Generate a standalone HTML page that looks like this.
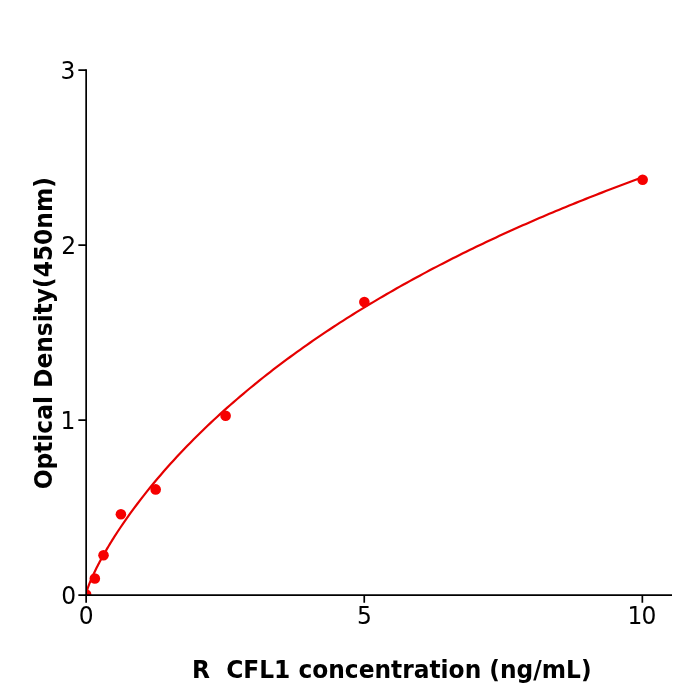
<!DOCTYPE html>
<html lang="en"><head><meta charset="utf-8"><title>R CFL1 standard curve</title>
<style>
html,body{margin:0;padding:0;background:#fff;}
body{width:700px;height:700px;overflow:hidden;}
svg{display:block;}
text{font-family:"DejaVu Sans","Liberation Sans",sans-serif;fill:#000;}
.tick{font-size:23.4px;}
.lab{font-size:23.33px;font-weight:bold;}
</style></head>
<body>
<svg xmlns="http://www.w3.org/2000/svg" width="700" height="700" viewBox="0 0 700 700">
<rect width="700" height="700" fill="#ffffff"/>
<defs><clipPath id="ax"><rect x="86.15" y="70.11" width="585.85" height="525.09"/></clipPath></defs>
<g clip-path="url(#ax)">
<path d="M86.15,593.71 L86.86,590.83 L87.58,588.61 L88.29,586.60 L89.00,584.71 L89.72,582.91 L90.43,581.17 L91.14,579.49 L91.85,577.86 L92.57,576.27 L93.28,574.71 L93.99,573.19 L94.71,571.69 L95.42,570.22 L96.13,568.77 L96.85,567.35 L97.56,565.95 L98.27,564.56 L98.99,563.19 L99.70,561.84 L100.41,560.51 L101.12,559.19 L101.84,557.89 L102.55,556.59 L103.26,555.32 L103.98,554.05 L104.69,552.80 L105.40,551.56 L106.12,550.33 L106.83,549.11 L107.54,547.90 L108.26,546.70 L108.97,545.51 L109.68,544.33 L110.39,543.16 L111.11,541.99 L111.82,540.84 L112.53,539.69 L113.25,538.56 L113.96,537.43 L117.28,532.26 L120.61,527.24 L123.93,522.36 L127.25,517.60 L130.58,512.95 L133.90,508.41 L137.22,503.97 L140.55,499.62 L143.87,495.35 L147.19,491.17 L150.52,487.06 L153.84,483.03 L157.16,479.07 L160.48,475.17 L163.81,471.34 L167.13,467.57 L170.45,463.85 L173.78,460.19 L177.10,456.59 L180.42,453.04 L183.75,449.54 L187.07,446.08 L190.39,442.68 L193.72,439.32 L197.04,436.00 L200.36,432.73 L203.69,429.49 L207.01,426.30 L210.33,423.15 L213.66,420.03 L216.98,416.95 L220.30,413.91 L223.63,410.90 L226.95,407.93 L230.27,404.99 L233.60,402.08 L236.92,399.21 L240.24,396.36 L243.57,393.55 L246.89,390.76 L250.21,388.01 L253.53,385.28 L256.86,382.58 L260.18,379.91 L263.50,377.26 L266.83,374.64 L270.15,372.05 L273.47,369.48 L276.80,366.94 L280.12,364.41 L283.44,361.92 L286.77,359.44 L290.09,356.99 L293.41,354.56 L296.74,352.16 L300.06,349.77 L303.38,347.41 L306.71,345.06 L310.03,342.74 L313.35,340.44 L316.68,338.15 L320.00,335.89 L323.32,333.65 L326.65,331.42 L329.97,329.21 L333.29,327.02 L336.61,324.85 L339.94,322.70 L343.26,320.56 L346.58,318.44 L349.91,316.34 L353.23,314.25 L356.55,312.18 L359.88,310.13 L363.20,308.09 L366.52,306.07 L369.85,304.06 L373.17,302.07 L376.49,300.09 L379.82,298.13 L383.14,296.18 L386.46,294.25 L389.79,292.33 L393.11,290.43 L396.43,288.54 L399.76,286.66 L403.08,284.79 L406.40,282.94 L409.73,281.10 L413.05,279.28 L416.37,277.47 L419.70,275.67 L423.02,273.88 L426.34,272.11 L429.66,270.34 L432.99,268.59 L436.31,266.85 L439.63,265.12 L442.96,263.41 L446.28,261.70 L449.60,260.01 L452.93,258.33 L456.25,256.66 L459.57,255.00 L462.90,253.35 L466.22,251.71 L469.54,250.08 L472.87,248.46 L476.19,246.85 L479.51,245.25 L482.84,243.67 L486.16,242.09 L489.48,240.52 L492.81,238.96 L496.13,237.41 L499.45,235.87 L502.78,234.34 L506.10,232.82 L509.42,231.31 L512.74,229.81 L516.07,228.31 L519.39,226.83 L522.71,225.35 L526.04,223.89 L529.36,222.43 L532.68,220.98 L536.01,219.54 L539.33,218.10 L542.65,216.68 L545.98,215.26 L549.30,213.85 L552.62,212.45 L555.95,211.06 L559.27,209.67 L562.59,208.30 L565.92,206.93 L569.24,205.56 L572.56,204.21 L575.89,202.86 L579.21,201.52 L582.53,200.19 L585.86,198.87 L589.18,197.55 L592.50,196.24 L595.83,194.93 L599.15,193.64 L602.47,192.35 L605.79,191.07 L609.12,189.79 L612.44,188.52 L615.76,187.26 L619.09,186.00 L622.41,184.75 L625.73,183.51 L629.06,182.28 L632.38,181.05 L635.70,179.82 L639.03,178.61 L642.35,177.39" fill="none" stroke="#e50000" stroke-width="2.2" stroke-linecap="round" stroke-linejoin="round"/>
<g fill="#f60000">
<circle cx="86.15" cy="594.57" r="5.3"/>
<circle cx="94.84" cy="578.56" r="5.3"/>
<circle cx="103.53" cy="555.19" r="5.3"/>
<circle cx="120.91" cy="514.32" r="5.3"/>
<circle cx="155.68" cy="489.38" r="5.3"/>
<circle cx="225.60" cy="415.69" r="5.3"/>
<circle cx="364.35" cy="302.10" r="5.3"/>
<circle cx="642.65" cy="179.75" r="5.3"/>
</g>
</g>
<g stroke="#000" stroke-width="1.7" fill="none" stroke-linecap="butt">
<path d="M86.15,69.26 V596.05"/>
<path d="M85.30,595.2 H672"/>
<path d="M78.35,595.20 H86.15 M78.35,420.17 H86.15 M78.35,245.14 H86.15 M78.35,70.11 H86.15"/>
<path d="M86.15,595.20 V602.80 M364.25,595.20 V602.80 M642.35,595.20 V602.80"/>
</g>
<g class="tick" text-anchor="end">
<text transform="translate(75.5,78.86) scale(1,1.08)">3</text>
<text transform="translate(76.2,254.14) scale(1,1.08)">2</text>
<text transform="translate(75.5,428.77) scale(1,1.03)">1</text>
<text transform="translate(76.2,603.90) scale(1,1.08)">0</text>
</g>
<g class="tick" text-anchor="middle">
<text transform="translate(86.15,623.95) scale(1,1.08)">0</text>
<text transform="translate(364.40,623.95) scale(1,1.053)">5</text>
<text transform="translate(641.55,623.95) scale(1,1.08)" letter-spacing="-0.9">10</text>
</g>
<text class="lab" text-anchor="middle" transform="translate(391.8,678.05) scale(1,1.03)" xml:space="preserve">R  CFL1 concentration (ng/mL)</text>
<text class="lab" text-anchor="middle" transform="translate(52.25,333.2) rotate(-90) scale(1,1.03)">Optical Density(450nm)</text>
</svg>
</body></html>
